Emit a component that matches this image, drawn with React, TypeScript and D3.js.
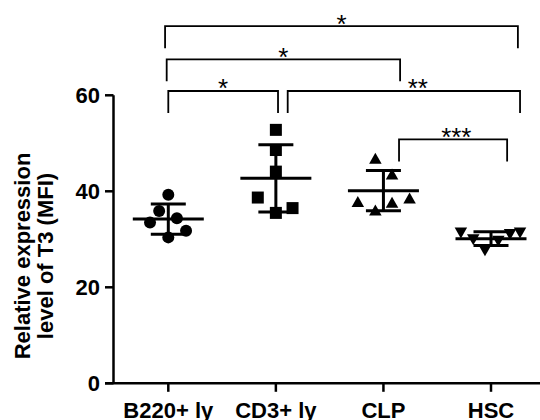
import React from "react";
import * as d3 from "d3";

const categories = ["B220+ ly", "CD3+ ly", "CLP", "HSC"];
const shapes = ["circle", "square", "triangleUp", "triangleDown"];
const b220Values = [39.3, 35.9, 33.5, 34.4, 31.8, 30.4];
const b220Jitter = [0, -0.085, -0.17, 0.08, 0.165, 0];
const cd3Values = [52.8, 48.6, 44.1, 38.7, 36.5, 35.5];
const cd3Jitter = [0, 0, 0, -0.168, 0.155, 0];
const clpValues = [46.9, 43.6, 37.9, 37.7, 38.6, 36.1];
const clpJitter = [-0.075, 0.08, -0.238, 0.08, 0.243, -0.075];
const hscValues = [31.3, 29.9, 27.6, 29.6, 31.0, 31.3];
const hscJitter = [-0.28, -0.165, -0.056, 0.068, 0.177, 0.27];
const yTicks = [0, 20, 40, 60];
const yLabelLines = ["Relative expression", "level of T3 (MFI)"];

// significance brackets: from/to category, height (value units), labels, end nudges (in steps)
const bracketFrom = [0, 0, 0, 1, 2];
const bracketTo = [3, 2, 1, 3, 3];
const bracketLevel = [74.4, 67.5, 60.9, 60.9, 50.8];
const bracketLabel = ["*", "*", "*", "**", "***"];
const bracketNudgeFrom = [-0.03, -0.015, 0, 0.11, 0.145];
const bracketNudgeTo = [0.25, 0.155, 0.02, 0.27, 0.15];
const bracketLabelNudge = [0, 0, 0, 0.13, 0.03];

const groups = [
  { values: b220Values, jitter: b220Jitter },
  { values: cd3Values, jitter: cd3Jitter },
  { values: clpValues, jitter: clpJitter },
  { values: hscValues, jitter: hscJitter },
];

const W = 540;
const H = 420;
const FONT = "'Liberation Sans', Arial, Helvetica, sans-serif";

function marker(shape: string, cx: number, cy: number, key: string) {
  if (shape === "circle") return <circle key={key} cx={cx} cy={cy} r={6} fill="#000" />;
  if (shape === "square")
    return <rect key={key} x={cx - 6} y={cy - 6} width={12} height={12} fill="#000" />;
  const w = 12.5;
  const h = 11;
  if (shape === "triangleUp")
    return (
      <path
        key={key}
        d={`M${cx - w / 2},${cy + h / 2}L${cx + w / 2},${cy + h / 2}L${cx},${cy - h / 2}Z`}
        fill="#000"
      />
    );
  return (
    <path
      key={key}
      d={`M${cx - w / 2},${cy - h / 2}L${cx + w / 2},${cy - h / 2}L${cx},${cy + h / 2}Z`}
      fill="#000"
    />
  );
}

export default function App() {
  const x = d3.scalePoint<string>().domain(categories).range([168.3, 491]).padding(0);
  const step = x.step();
  const y = d3.scaleLinear().domain([0, 60]).range([383.3, 95.3]);
  const axisLeft = 113.5;
  const legPx = 22;

  return (
    <svg width={W} height={H} style={{ display: "block", position: "absolute", left: 0, top: 0 }} fontFamily={FONT}>
      <rect width={W} height={H} fill="#fff" />
      {/* y axis */}
      <line x1={axisLeft} x2={axisLeft} y1={y(60)} y2={y(0)} stroke="#000" strokeWidth={2.5} />
      {yTicks.map((t) => (
        <g key={t}>
          <line x1={axisLeft - 8.5} x2={axisLeft} y1={y(t)} y2={y(t)} stroke="#000" strokeWidth={2.5} />
          <text x={100} y={y(t)} dy="0.36em" textAnchor="end" fontSize={22} fontWeight="bold">
            {t}
          </text>
        </g>
      ))}
      {/* x axis */}
      <line x1={105} x2={W} y1={y(0)} y2={y(0)} stroke="#000" strokeWidth={2.5} />
      {categories.map((c) => (
        <g key={c}>
          <line x1={x(c)} x2={x(c)} y1={y(0)} y2={y(0) + 8.5} stroke="#000" strokeWidth={2.5} />
          <text x={x(c)} y={418} textAnchor="middle" fontSize={22} fontWeight="bold">
            {c}
          </text>
        </g>
      ))}
      {/* y label */}
      <g transform={`translate(0,256) rotate(-90)`}>
        {yLabelLines.map((l, i) => (
          <text key={i} x={0} y={21.7 + i * 23.3} dy="0.36em" textAnchor="middle" fontSize={22} fontWeight="bold">
            {l}
          </text>
        ))}
      </g>
      {/* points */}
      {groups.map((g, gi) => {
        const cx = x(categories[gi])!;
        return g.values.map((v, i) => marker(shapes[gi], cx + g.jitter[i] * step, y(v), `${gi}-${i}`));
      })}
      {/* mean +/- SD */}
      {groups.map((g, gi) => {
        const cx = x(categories[gi])!;
        const m = d3.mean(g.values)!;
        const sd = d3.deviation(g.values)!;
        return (
          <g key={gi} stroke="#000" strokeWidth={3}>
            <line x1={cx - 35.5} x2={cx + 35.5} y1={y(m)} y2={y(m)} />
            <line x1={cx} x2={cx} y1={y(m + sd)} y2={y(m - sd)} />
            <line x1={cx - 17.5} x2={cx + 17.5} y1={y(m + sd)} y2={y(m + sd)} />
            <line x1={cx - 17.5} x2={cx + 17.5} y1={y(m - sd)} y2={y(m - sd)} />
          </g>
        );
      })}
      {/* brackets */}
      {bracketFrom.map((f, i) => {
        const x1 = x(categories[f])! + bracketNudgeFrom[i] * step;
        const x2 = x(categories[bracketTo[i]])! + bracketNudgeTo[i] * step;
        const by = y(bracketLevel[i]);
        const mid = (x1 + x2) / 2 + bracketLabelNudge[i] * step;
        return (
          <g key={i}>
            <path
              d={`M${x1},${by + legPx}V${by}H${x2}V${by + legPx}`}
              fill="none"
              stroke="#000"
              strokeWidth={1.8}
            />
            <text x={mid} y={by - 9 + 15.5} textAnchor="middle" fontSize={26} fontWeight="normal">
              {bracketLabel[i]}
            </text>
          </g>
        );
      })}
    </svg>
  );
}
